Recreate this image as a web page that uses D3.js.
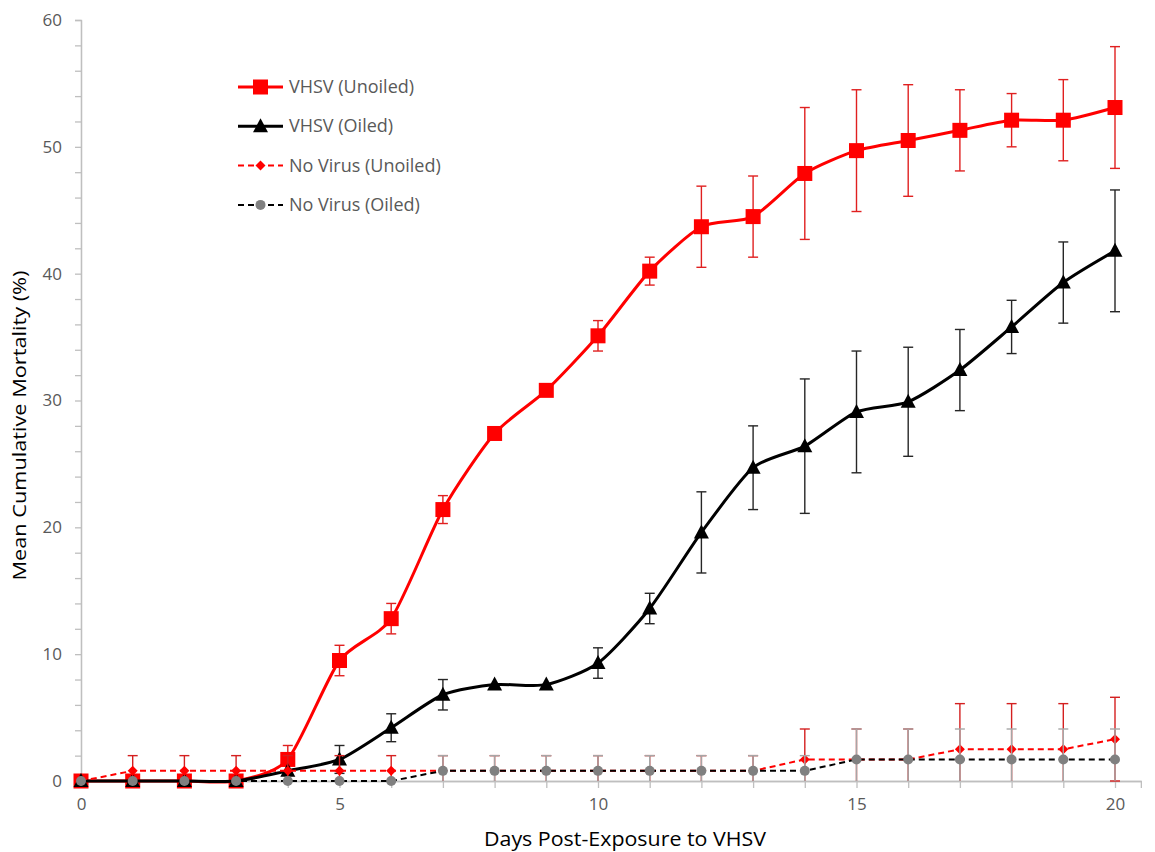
<!DOCTYPE html>
<html>
<head>
<meta charset="utf-8">
<script src="https://cdn.jsdelivr.net/npm/d3@7"></script>
<style>
  body { margin: 0; background: #fff; }
  svg { display: block; font-family: "Open Sans", "Noto Sans", sans-serif; }
</style>
</head>
<body>
<div id="chart-area"></div>
<script>
/*
*    mortality chart
*/

var days = [0, 1, 2, 3, 4, 5, 6, 7, 8, 9, 10, 11, 12, 13, 14, 15, 16, 17, 18, 19, 20];

var vhsvUnoiled    = [0, 0, 0, 0, 1.7, 9.5, 12.8, 21.4, 27.4, 30.8, 35.1, 40.2, 43.7, 44.5, 47.9, 49.7, 50.5, 51.3, 52.1, 52.1, 53.1];
var vhsvUnoiledErr = [0, 0, 0, 0, 1.1, 1.2, 1.2, 1.1, 0, 0, 1.2, 1.1, 3.2, 3.2, 5.2, 4.8, 4.4, 3.2, 2.1, 3.2, 4.8];

var vhsvOiled    = [0, 0, 0, 0, 0.8, 1.7, 4.2, 6.8, 7.6, 7.6, 9.3, 13.6, 19.6, 24.7, 26.4, 29.1, 29.9, 32.4, 35.8, 39.3, 41.8];
var vhsvOiledErr = [0, 0, 0, 0, 0, 1.1, 1.1, 1.2, 0, 0, 1.2, 1.2, 3.2, 3.3, 5.3, 4.8, 4.3, 3.2, 2.1, 3.2, 4.8];

var noVirusUnoiled    = [0, 0.8, 0.8, 0.8, 0.8, 0.8, 0.8, 0.8, 0.8, 0.8, 0.8, 0.8, 0.8, 0.8, 1.7, 1.7, 1.7, 2.5, 2.5, 2.5, 3.3];
var noVirusUnoiledErr = [0, 1.2, 1.2, 1.2, 1.2, 1.2, 1.2, 1.2, 1.2, 1.2, 1.2, 1.2, 1.2, 1.2, 2.4, 2.4, 2.4, 3.6, 3.6, 3.6, 3.3];

var noVirusOiled    = [0, 0, 0, 0, 0, 0, 0, 0.8, 0.8, 0.8, 0.8, 0.8, 0.8, 0.8, 0.8, 1.7, 1.7, 1.7, 1.7, 1.7, 1.7];
var noVirusOiledErr = [0, 0, 0, 0, 0, 0, 0, 1.2, 1.2, 1.2, 1.2, 1.2, 1.2, 1.2, 1.2, 2.4, 2.4, 2.4, 2.4, 2.4, 2.4];

var seriesNames = ["VHSV (Unoiled)", "VHSV (Oiled)", "No Virus (Unoiled)", "No Virus (Oiled)"];

var yTicks = [0, 10, 20, 30, 40, 50, 60];
var xTicks = [0, 5, 10, 15, 20];

var W = 1155, H = 852;
var axisColor = "#bfbfbf";
var textColor = "#595959";

var svg = d3.select("#chart-area").append("svg")
    .attr("width", W)
    .attr("height", H);

var x = d3.scaleLinear()
    .domain([0, 20.5])
    .range([81, 81 + (1115 - 81) / 20 * 20.5]);

var y = d3.scaleLinear()
    .domain([0, 60])
    .range([781, 20]);

// series styling
var series = [
    {name: seriesNames[0], values: vhsvUnoiled, err: vhsvUnoiledErr, color: "#ff0000", errColor: "#e02020",
     width: 3, dash: null, smooth: true, marker: "square", markerColor: "#ff0000"},
    {name: seriesNames[1], values: vhsvOiled, err: vhsvOiledErr, color: "#000000", errColor: "#262626",
     width: 3, dash: null, smooth: true, marker: "triangle", markerColor: "#000000"},
    {name: seriesNames[2], values: noVirusUnoiled, err: noVirusUnoiledErr, color: "#ff0000", errColor: "#d42020",
     width: 2, dash: "6,4", smooth: false, marker: "diamond", markerColor: "#ff0000"},
    {name: seriesNames[3], values: noVirusOiled, err: noVirusOiledErr, color: "#000000", errColor: "#a6a6a6",
     width: 2, dash: "6,4", smooth: false, marker: "circle", markerColor: "#808080"}
];

// axes
var yAxisMinor = d3.axisLeft(y)
    .tickValues(d3.range(0, 61, 2))
    .tickSize(6)
    .tickFormat("");

var yAxis = d3.axisLeft(y)
    .tickValues(yTicks)
    .tickSize(0)
    .tickPadding(19);

var xAxisMinor = d3.axisBottom(x)
    .tickValues(days)
    .tickSize(7)
    .tickFormat("");

var xAxis = d3.axisBottom(x)
    .tickValues(xTicks)
    .tickSize(0)
    .tickPadding(17);

var yg = svg.append("g")
    .attr("transform", "translate(" + x(0) + ",0)");
yg.call(yAxisMinor);
yg.append("g").call(yAxis);

var xg = svg.append("g")
    .attr("transform", "translate(0," + y(0) + ")");
xg.call(xAxisMinor);
xg.append("g").call(xAxis);

svg.selectAll(".domain").attr("stroke", axisColor).attr("stroke-width", 1.3);
svg.selectAll(".tick line").attr("stroke", axisColor).attr("stroke-width", 1.3);
svg.selectAll(".tick text")
    .attr("fill", textColor)
    .attr("font-size", "17px")
    .attr("font-family", "\"Open Sans\", sans-serif");

// axis titles
svg.append("text")
    .attr("transform", "translate(26," + (y(30) + 25) + ") rotate(-90)")
    .attr("text-anchor", "middle")
    .attr("font-size", "19px")
    .attr("fill", "#000")
    .attr("textLength", 310)
    .attr("lengthAdjust", "spacingAndGlyphs")
    .text("Mean Cumulative Mortality (%)");

svg.append("text")
    .attr("x", 625)
    .attr("y", 846)
    .attr("text-anchor", "middle")
    .attr("font-size", "20px")
    .attr("fill", "#000")
    .attr("textLength", 282)
    .attr("lengthAdjust", "spacingAndGlyphs")
    .text("Days Post-Exposure to VHSV");

function drawMarker(g, type, color, cx, cy) {
    if (type == "square") {
        g.append("rect")
            .attr("x", cx - 7.5).attr("y", cy - 7.5)
            .attr("width", 15).attr("height", 15)
            .attr("fill", color);
    } else if (type == "triangle") {
        g.append("path")
            .attr("d", "M" + cx + "," + (cy - 8) + "L" + (cx + 7.5) + "," + (cy + 6) + "L" + (cx - 7.5) + "," + (cy + 6) + "Z")
            .attr("fill", color);
    } else if (type == "diamond") {
        g.append("path")
            .attr("d", "M" + cx + "," + (cy - 5) + "L" + (cx + 5) + "," + cy + "L" + cx + "," + (cy + 5) + "L" + (cx - 5) + "," + cy + "Z")
            .attr("fill", color);
    } else {
        g.append("circle")
            .attr("cx", cx).attr("cy", cy).attr("r", 5)
            .attr("fill", color);
    }
}

var plot = svg.append("g");

series.forEach((s) => {
    var pts = days.map((d, i) => { return {day: d, v: s.values[i], e: s.err[i]}; });
    var g = plot.append("g");

    // error bars
    var bars = g.selectAll(".err").data(pts.filter((p) => { return p.e > 0; }))
        .enter().append("g");
    bars.append("line")
        .attr("x1", (p) => { return x(p.day); })
        .attr("x2", (p) => { return x(p.day); })
        .attr("y1", (p) => { return y(p.v + p.e); })
        .attr("y2", (p) => { return y(Math.max(0, p.v - p.e)); })
        .attr("stroke", s.errColor)
        .attr("stroke-width", 1.4);
    bars.append("line")
        .attr("x1", (p) => { return x(p.day) - 5; })
        .attr("x2", (p) => { return x(p.day) + 5; })
        .attr("y1", (p) => { return y(p.v + p.e); })
        .attr("y2", (p) => { return y(p.v + p.e); })
        .attr("stroke", s.errColor)
        .attr("stroke-width", 1.4);
    bars.filter((p) => { return p.v - p.e >= 0; }).append("line")
        .attr("x1", (p) => { return x(p.day) - 5; })
        .attr("x2", (p) => { return x(p.day) + 5; })
        .attr("y1", (p) => { return y(p.v - p.e); })
        .attr("y2", (p) => { return y(p.v - p.e); })
        .attr("stroke", s.errColor)
        .attr("stroke-width", 1.4);

    var line = d3.line()
        .x((p) => { return x(p.day); })
        .y((p) => { return y(p.v); })
        .curve(s.smooth ? d3.curveCardinal.tension(0.3) : d3.curveLinear);

    g.append("path")
        .datum(pts)
        .attr("d", line)
        .attr("fill", "none")
        .attr("stroke", s.color)
        .attr("stroke-width", s.width)
        .attr("stroke-dasharray", s.dash);

    pts.forEach((p) => { drawMarker(g, s.marker, s.markerColor, x(p.day), y(p.v)); });
});

// legend
var legend = svg.append("g");
series.forEach((s, i) => {
    var row = legend.append("g")
        .attr("transform", "translate(238," + (87 + i * 39.3) + ")");
    row.append("line")
        .attr("x1", 0).attr("x2", 45)
        .attr("stroke", s.color)
        .attr("stroke-width", s.width)
        .attr("stroke-dasharray", s.dash);
    drawMarker(row, s.marker, s.markerColor, 22.5, 0);
    row.append("text")
        .attr("x", 51)
        .attr("y", 6)
        .attr("font-size", "18px")
        .attr("fill", textColor)
        .text(s.name);
});
</script>
</body>
</html>
